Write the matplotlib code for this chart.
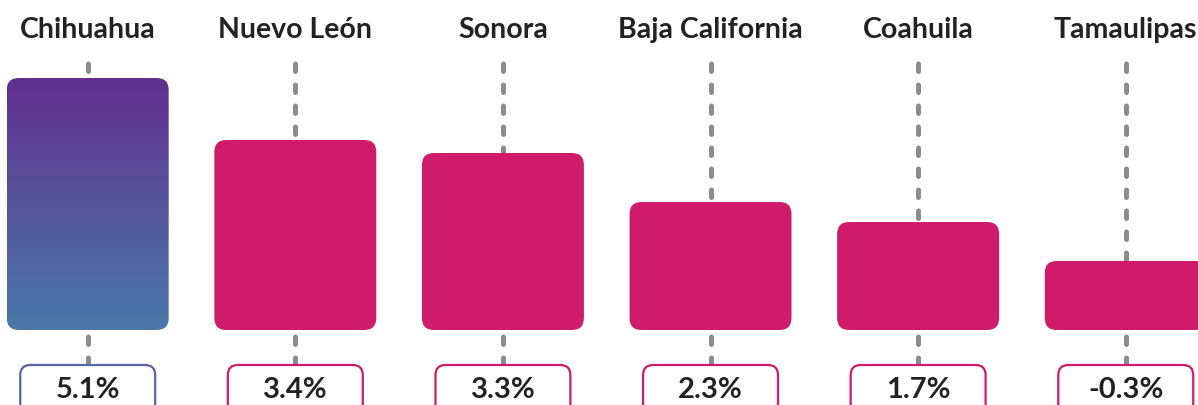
import matplotlib.pyplot as plt
import numpy as np
from matplotlib.patches import FancyBboxPatch
from matplotlib.colors import LinearSegmentedColormap

states = ['Chihuahua', 'Nuevo León', 'Sonora', 'Baja California', 'Coahuila', 'Tamaulipas']
value_labels = ['5.1%', '3.4%', '3.3%', '2.3%', '1.7%', '-0.3%']
# bar heights as drawn in the original (arbitrary units)
bar_heights = [25.2, 19.0, 17.7, 12.8, 10.8, 6.9]

crimson = '#CF1C6A'
grad_top = '#62308F'
grad_bottom = '#4A78A9'
box_first = '#5566AA'
text_color = '#222222'

W, H = 1198, 406
fig = plt.figure(figsize=(W / 100, H / 100), dpi=100)
ax = fig.add_axes([0, 0, 1, 1])
xlim = (-0.4225, 5.348)
ylim = (-7.5, 33.1)
ax.set_xlim(*xlim)
ax.set_ylim(*ylim)
ax.axis('off')

# aspect so that rounded corners stay round
xpp = (xlim[1] - xlim[0]) / W
ypp = (ylim[1] - ylim[0]) / H
aspect = ypp / xpp

plt.rcParams['font.family'] = ['Lato', 'DejaVu Sans']

bar_w = 0.78
box_w = 0.65
rad = 12 * xpp
x = np.arange(len(states))

cmap = LinearSegmentedColormap.from_list('g', [grad_bottom, grad_top])

for i, (name, lab, h) in enumerate(zip(states, value_labels, bar_heights)):
    # dashed guide line
    ax.plot([i, i], [-3.5, 27.7], color='#8C8C8C', lw=3.6,
            linestyle=(0, (1.5, 2.7)), dash_capstyle='round', zorder=1)

    # bar
    patch = FancyBboxPatch((i - bar_w / 2 + rad, rad * aspect),
                           bar_w - 2 * rad, h - 2 * rad * aspect,
                           boxstyle=f'round,pad={rad}', mutation_aspect=aspect,
                           linewidth=0, zorder=2)
    if i == 0:
        patch.set_facecolor('none')
        ax.add_patch(patch)
        grad = np.linspace(0, 1, 256).reshape(-1, 1)
        im = ax.imshow(grad, cmap=cmap, origin='lower', aspect='auto',
                       extent=(i - bar_w / 2, i + bar_w / 2, 0, h), zorder=2)
        im.set_clip_path(patch)
        edge = box_first
    else:
        patch.set_facecolor(crimson)
        ax.add_patch(patch)
        edge = crimson

    # state name
    ax.text(i, 30.1, name, ha='center', va='center', fontsize=20.5,
            fontweight='bold', color=text_color)

    # value box
    brad = 10 * xpp
    box = FancyBboxPatch((i - box_w / 2 + brad, -12),
                         box_w - 2 * brad, 8.5 - brad * aspect,
                         boxstyle=f'round,pad={brad}', mutation_aspect=aspect,
                         facecolor='white', edgecolor=edge, linewidth=1.6, zorder=3)
    ax.add_patch(box)
    ax.text(i, -5.9, lab, ha='center', va='center', fontsize=21,
            fontweight='bold', color=text_color, zorder=4)

fig.savefig('out.png', dpi=100)
